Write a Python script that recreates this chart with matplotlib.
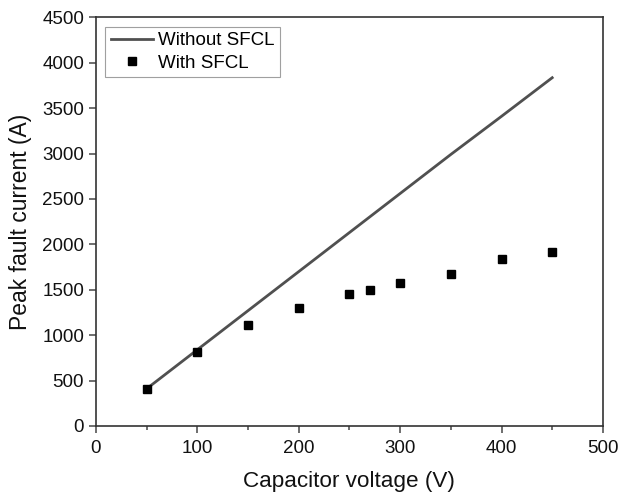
import matplotlib
matplotlib.use("Agg")
import matplotlib.pyplot as plt
from matplotlib.ticker import MultipleLocator

plt.rcParams['font.family'] = ['Liberation Sans', 'DejaVu Sans']

line_v = [50, 100, 150, 200, 250, 300, 350, 400, 450]
line_i = [410, 840, 1270, 1700, 2130, 2560, 2990, 3410, 3835]

pts_v = [50, 100, 150, 200, 250, 270, 300, 350, 400, 450]
pts_i = [406, 815, 1115, 1298, 1457, 1495, 1578, 1678, 1840, 1920]

fig = plt.figure(figsize=(6.19, 4.98), dpi=100)
ax = fig.add_axes([0.155, 0.1446, 0.819, 0.8206])

ax.plot(line_v, line_i, color='#505050', lw=2.0, label='Without SFCL', zorder=2)
ax.plot(pts_v, pts_i, ls='none', marker='s', ms=5.8, color='black', label='With SFCL', zorder=3)

ax.set_xlim(0, 500)
ax.set_ylim(0, 4500)
ax.xaxis.set_major_locator(MultipleLocator(100))
ax.xaxis.set_minor_locator(MultipleLocator(50))
ax.yaxis.set_major_locator(MultipleLocator(500))

ax.tick_params(axis='both', which='major', direction='out', length=5, width=1.2,
               color='#555555', labelsize=13.5, labelcolor='#111111')
ax.tick_params(axis='x', which='major', pad=5)
ax.tick_params(axis='x', which='minor', direction='out', length=3, width=1.2, color='#555555')
ax.tick_params(top=False, right=False, which='both')
for s in ax.spines.values():
    s.set_color('#333333')
    s.set_linewidth(1.2)

ax.set_xlabel('Capacitor voltage (V)', fontsize=16.2, color='#111111', labelpad=10)
ax.set_ylabel('Peak fault current (A)', fontsize=16.5, color='#111111', labelpad=7)

leg = ax.legend(loc='upper left', fontsize=13.5, frameon=True, fancybox=False,
                edgecolor='#888888', handlelength=2.25, borderpad=0.3,
                labelspacing=0.28, handletextpad=0.27, borderaxespad=0.5)
leg.get_frame().set_linewidth(0.8)

fig.savefig('out.png', dpi=100)
